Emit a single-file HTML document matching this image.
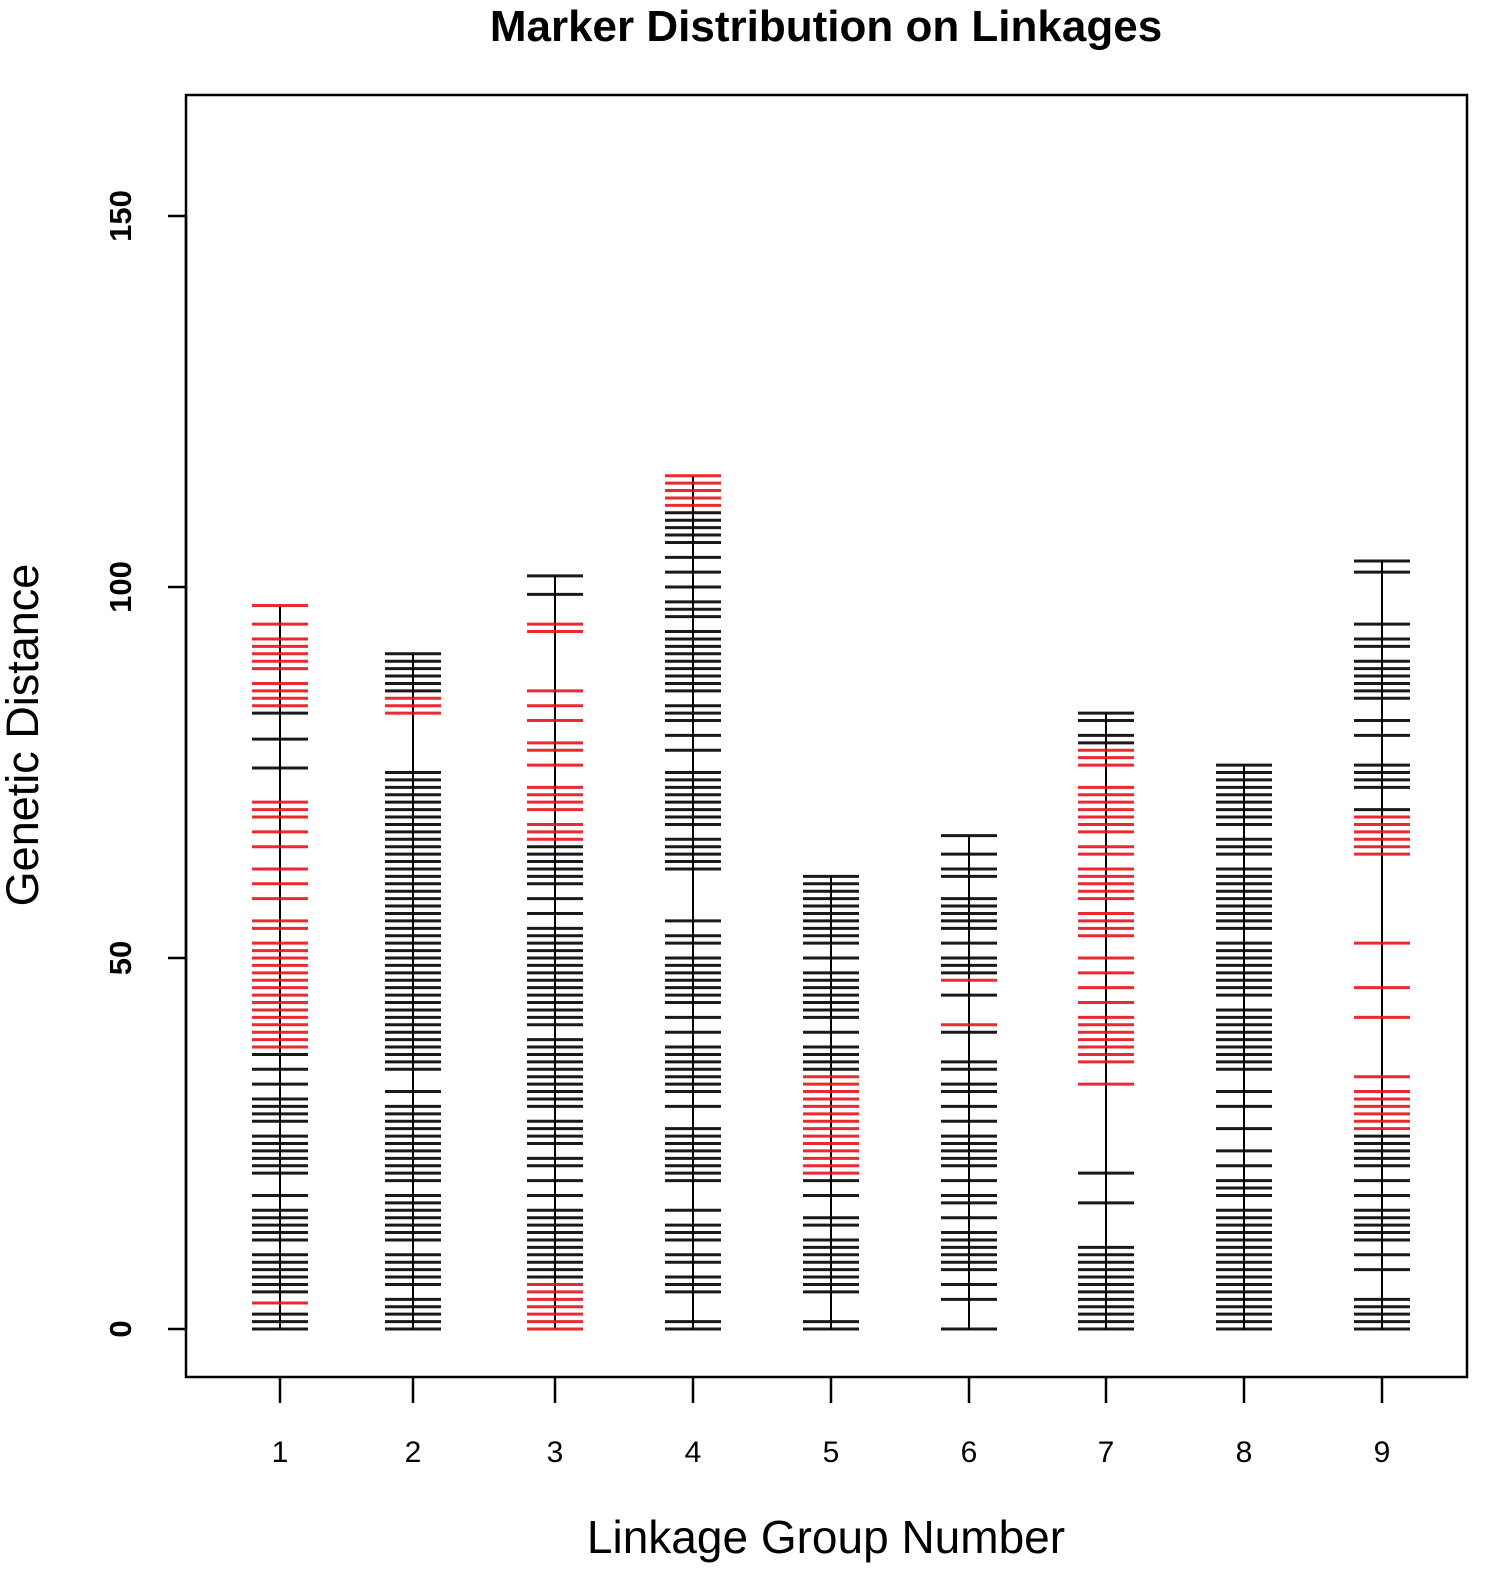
<!DOCTYPE html>
<html><head><meta charset="utf-8"><style>
html,body{margin:0;padding:0;background:#fff}
svg{display:block;font-family:"Liberation Sans",Arial,sans-serif}
</style></head><body>
<svg id="chart" width="1500" height="1577" viewBox="0 0 1500 1577" xmlns="http://www.w3.org/2000/svg">
<rect x="0" y="0" width="1500" height="1577" fill="#fff"/>
<text x="826" y="41" text-anchor="middle" font-size="44" font-weight="bold">Marker Distribution on Linkages</text>
<rect x="186" y="95" width="1281" height="1282" fill="none" stroke="#000" stroke-width="2.5"/>
<text transform="translate(38,735) rotate(-90)" text-anchor="middle" font-size="45">Genetic Distance</text>
<text x="826" y="1553" text-anchor="middle" font-size="46">Linkage Group Number</text>
<g id="marks"></g>
</svg>
<script>
const groups = [1,2,3,4,5,6,7,8,9];
const yTicks = [0,50,100,150];
const maxLen = [97.5,91,101.5,115,61,66.5,83,76,103.5];
const blackMarkers = [
 [0,1,2,5,6,7,8,9,10,12,13,14,15,16,18,21,22,23,24,25,26,28,29,30,31,33,35,37,75.6,79.5,83],
 [0,1,2,3,4,6,7,8,9,10,12,13,14,15,16,17,18,20,21,22,23,24,25,26,27,28,29,30,32,35,36,37,38,39,40,41,42,43,44,45,46,47,48,49,50,51,52,53,54,55,56,57,58,59,60,61,62,63,64,65,66,67,68,69,70,71,72,73,74,75,86,87,88,89,90,91],
 [7,8,9,10,11,12,13,14,15,16,18,20,22,23,25,26,27,28,30,31,32,33,34,35,36,37,38,39,41,42,43,44,45,46,47,48,49,50,51,52,53,54,56,58,60,61,62,63,64,65,99,101.5],
 [0,1,5,6,7,9,10,12,13,14,16,20,21,22,23,24,25,26,27,30,32,33,34,35,36,37,38,40,42,44,45,46,47,48,49,50,52,53,55,62,63,64,65,66,68,69,70,71,72,73,74,75,78,80,82,83,84,86,87,88,89,90,91,92,93,94,96,97,98,100,102,104,106,107,108,109,110],
 [0,1,5,6,7,8,9,10,11,12,14,15,18,20,35,36,37,38,40,42,43,44,45,46,47,48,50,52,53,54,55,56,57,58,59,60,61],
 [0,4,6,8,9,10,11,12,13,15,17,18,20,22,23,24,25,26,28,30,32,33,35,36,40,45,48,49,50,52,54,55,56,57,58,61,62,64,66.5],
 [0,1,2,3,4,5,6,7,8,9,10,11,17,21,79,80,82,83],
 [0,1,2,3,4,5,6,7,8,9,10,11,12,13,14,15,16,18,19,20,22,24,27,30,32,35,36,37,38,39,40,41,42,43,45,46,47,48,49,50,51,52,54,55,56,57,58,59,60,61,62,64,65,66,68,69,70,71,72,73,74,75,76],
 [0,1,2,3,4,8,10,12,13,14,15,16,18,20,22,23,24,25,26,70,73,74,75,76,80,82,85,86,87,88,89,90,92,93,95,102,103.5]
];
const redMarkers = [
 [3.5,38,39,40,41,42,43,44,45,46,47,48,49,50,51,52,54,55,58,60,62,65,67,69,70,71,84,85,86,87,89,90,91,92,93,95,97.5],
 [83,84,85],
 [0,1,2,3,4,5,6,66,67,68,70,71,72,73,76,78,79,82,84,86,94,95],
 [111,112,113,114,115],
 [21,22,23,24,25,26,27,28,29,30,31,32,33,34],
 [41,47],
 [33,36,37,38,39,40,41,42,44,46,48,50,53,54,55,56,58,59,60,61,62,64,65,67,68,69,70,71,72,73,76,77,78],
 [],
 [27,28,29,30,31,32,34,42,46,52,64,65,66,67,68,69]
];
const xCenters = [280,413,555,693,831,969,1106,1244,1382];
const yScale = v => 1329 - v * 7.42;
const xScale = g => xCenters[g - 1];
const NS = "http://www.w3.org/2000/svg";
const root = document.getElementById('marks');
function mk(tag, attrs){const e=document.createElementNS(NS,tag);for(const k in attrs)e.setAttribute(k,attrs[k]);root.appendChild(e);return e;}
let ax = mk('line',{x1:186,x2:186,y1:yScale(0),y2:yScale(150),stroke:'#000','stroke-width':2.5});


yTicks.forEach(t=>{
  const l = mk('line',{x1:168,x2:186,y1:yScale(t),y2:yScale(t),stroke:'#000','stroke-width':2.5});
  
  
  const tx = mk('text',{transform:`translate(131,${yScale(t)}) rotate(-90)`,'text-anchor':'middle','font-size':31,'font-weight':'bold'});
  tx.textContent = t;
  
  
});
groups.forEach((g,i)=>{
  const x = xScale(g);
  const tk = mk('line',{x1:x,x2:x,y1:1377,y2:1403,stroke:'#000','stroke-width':2.5});
  
  
  const tl = mk('text',{x:x,y:1462,'text-anchor':'middle','font-size':30});
  tl.textContent = g;
  
  
  const bb = mk('line',{x1:x,x2:x,y1:yScale(0),y2:yScale(maxLen[i]),stroke:'#000','stroke-width':2});
  
  
  blackMarkers[i].forEach(v=>{
    const m = mk('line',{x1:x-28,x2:x+28,y1:yScale(v),y2:yScale(v),stroke:'#000','stroke-width':3,'stroke-opacity':0.9});
    
    
  });
  redMarkers[i].forEach(v=>{
    const m = mk('line',{x1:x-28,x2:x+28,y1:yScale(v),y2:yScale(v),stroke:'#e8121a','stroke-width':3,'stroke-opacity':0.9});
    
    
  });
});
</script>
</body></html>
